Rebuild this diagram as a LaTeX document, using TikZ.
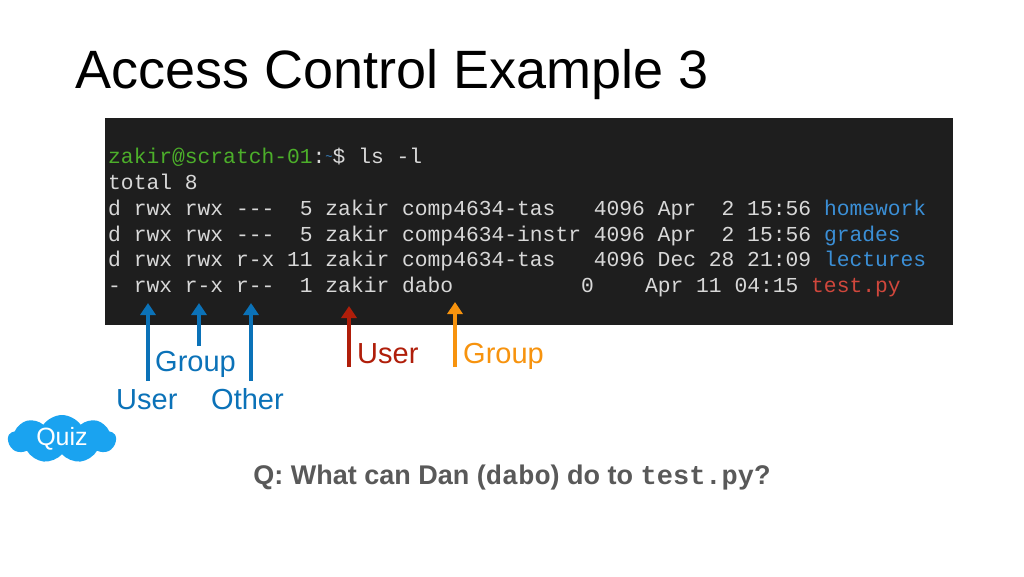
\documentclass[tikz,border=0pt]{standalone}
\usepackage{fontspec}
\setmainfont{Liberation Sans}
\setmonofont{Liberation Mono}
\usetikzlibrary{shapes.symbols}
\definecolor{term}{HTML}{1E1E1E}
\definecolor{tfg}{HTML}{D8D8D8}
\definecolor{tgreen}{HTML}{4CAF2A}
\definecolor{tblue}{HTML}{3B8FD6}
\definecolor{tred}{HTML}{D0473C}
\definecolor{ablue}{HTML}{0B72B8}
\definecolor{ared}{HTML}{B01E0A}
\definecolor{aorange}{HTML}{F7930E}
\definecolor{qgray}{HTML}{595959}
\definecolor{cloudc}{HTML}{1AA3F0}
\tikzset{
  tline/.style={anchor=base west,inner sep=0,text=tfg,font=\fontsize{21.3}{22}\ttfamily},
  arr/.style={line width=4pt,-{Triangle[length=12pt,width=15pt]}},
  lab/.style={font=\fontsize{29}{30}\selectfont,inner sep=0,anchor=base west}
}
\usetikzlibrary{arrows.meta}
\begin{document}
\begin{tikzpicture}[x=1pt,y=-1pt]
\useasboundingbox (0,0) rectangle (1024,576);
\fill[white] (0,0) rectangle (1024,576);
\node[anchor=base west,inner sep=0,font=\fontsize{54}{56}\selectfont] (title) at (75,88) {Access Control Example 3};
\fill[term] (105,118) rectangle (953,325);
\node[tline] (l1) at (108,163) {\textcolor{tgreen}{zakir@scratch-01}:\textcolor{tblue}{\raisebox{0.2ex}{\fontsize{12}{12}\selectfont\char`\~}}\$ ls -l};
\node[tline] (l2) at (108,189) {total 8};
\node[tline] (l3) at (108,215) {d rwx rwx ---\ \ 5 zakir comp4634-tas\ \ \ 4096 Apr\ \ 2 15:56 \textcolor{tblue}{homework}};
\node[tline] (l4) at (108,241) {d rwx rwx ---\ \ 5 zakir comp4634-instr 4096 Apr\ \ 2 15:56 \textcolor{tblue}{grades}};
\node[tline] (l5) at (108,266) {d rwx rwx r-x 11 zakir comp4634-tas\ \ \ 4096 Dec 28 21:09 \textcolor{tblue}{lectures}};
\node[tline] (l6) at (108,292) {- rwx r-x r--\ \ 1 zakir dabo\ \ \ \ \ \ \ \ \ \ 0\ \ \ \ Apr 11 04:15 \textcolor{tred}{test.py}};
\coordinate (u0) at (148,381); \coordinate (u1) at (148,303);
\coordinate (g0) at (199,346); \coordinate (g1) at (199,303);
\coordinate (o0) at (251,381); \coordinate (o1) at (251,303);
\coordinate (r0) at (349,367); \coordinate (r1) at (349,306);
\coordinate (y0) at (455,367); \coordinate (y1) at (455,302);
\draw[arr,ablue] (u0) -- (u1);
\draw[arr,ablue] (g0) -- (g1);
\draw[arr,ablue] (o0) -- (o1);
\draw[arr,ared] (r0) -- (r1);
\draw[arr,aorange] (y0) -- (y1);
\node[lab,text=ablue] (gl) at (155,371) {Group};
\node[lab,text=ablue] (ul) at (116,409) {User};
\node[lab,text=ablue] (ol) at (211,409) {Other};
\node[lab,text=ared] (ru) at (357,363) {User};
\node[lab,text=aorange] (og) at (463,363) {Group};
\node[cloud,cloud puffs=9,cloud puff arc=110,aspect=2.3,fill=cloudc,text=white,font=\fontsize{25}{26}\selectfont,minimum width=108pt,minimum height=48pt,inner sep=0] (quiz) at (62,439) {Quiz};
\node[anchor=base,inner sep=0,text=qgray,font=\fontsize{27}{28}\selectfont\bfseries] (q) at (512,484) {Q: What can Dan (\texttt{\bfseries dabo}) do to \texttt{\bfseries test.py}?};
\end{tikzpicture}
\end{document}
